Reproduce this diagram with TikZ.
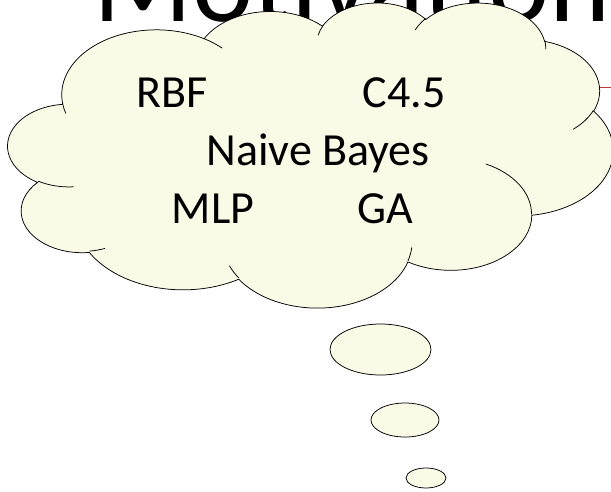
\documentclass[tikz,border=0pt]{standalone}
\usepackage{fontspec}
\setmainfont{Carlito}

\definecolor{cloudyellow}{RGB}{250,251,230}
\definecolor{linkred}{RGB}{190,60,60}

% one puff of the cloud: x radius, y radius, start angle, sweep (angles seen from the centre)
\newcommand\puff[4]{arc[start angle={atan2(#1*sin(#3),#2*cos(#3))},
  delta angle={mod(atan2(#1*sin(#3+#4),#2*cos(#3+#4))-atan2(#1*sin(#3),#2*cos(#3))+720,360)},
  x radius=#1, y radius=#2]}

\begin{document}
\begin{tikzpicture}[x=1pt,y=-1pt,
  cloudline/.style={draw=black,line width=0.75pt},
  bubble/.style={fill=cloudyellow,draw=black,line width=0.75pt},
  idea/.style={anchor=base,inner sep=0pt,font=\fontsize{46}{50}\selectfont}]
  \useasboundingbox (0,0) rectangle (611,491);
  \clip (0,0) rectangle (611,491);
  \fill[white] (0,0) rectangle (611,491);

  \node[anchor=base west,inner sep=0pt,font=\fontsize{116}{116}\selectfont] (title) at (93,21) {Motivation};

  \coordinate (rim) at (570,87);
  \coordinate (exit) at (611,87);
  \draw[linkred,line width=0.9pt] (rim) -- (exit);

  \begin{scope}[shift={(8,2)},x=1.4005pt,y=-0.706pt]
    \filldraw[fill=cloudyellow,cloudline] (39.00,143.70)
      \puff{67.53}{91.90}{-190.4875}{123.7805}
      \puff{53.33}{72.67}{-144.1024}{89.9452}
      \puff{43.65}{59.45}{-145.8079}{99.7230}
      \puff{48.57}{65.95}{-130.9861}{117.2417}
      \puff{53.33}{72.73}{-78.7089}{109.0269}
      \puff{67.75}{92.20}{-46.2673}{130.2690}
      \puff{57.85}{78.67}{0.6250}{114.0333}
      \puff{67.52}{92.15}{22.4516}{115.1726}
      \puff{77.20}{105.43}{66.2426}{75.7110}
      \puff{43.60}{59.18}{-274.9421}{146.7356}
      \puff{43.45}{59.45}{-246.8285}{152.5189}
      -- cycle;
    \draw[cloudline]
      (46.93,261.77) \puff{43.45}{59.45}{86.7420}{26.4295}
      (69.28,348.99) \puff{43.60}{59.18}{73.6105}{11.4475}
      (164.78,390.90) \puff{67.52}{92.15}{137.6242}{14.0811}
      (288.27,347.51) \puff{67.52}{92.15}{6.4533}{15.9984}
      (341.29,229.54) \puff{57.85}{78.67}{-70.2924}{70.9174}
      (417.98,153.54) \puff{53.33}{72.73}{30.3180}{27.7515}
      (383.24,54.26) \puff{48.57}{65.95}{-13.7443}{14.8589}
      (290.78,39.52) \puff{48.57}{65.95}{-149.1815}{18.1954}
      (221.41,47.20) \puff{43.65}{59.45}{-163.4943}{17.6864}
      (140.00,51.92) \puff{67.53}{91.90}{-66.7070}{12.3194}
      (41.27,157.89) \puff{67.53}{91.90}{157.6544}{11.8582};
  \end{scope}

  \draw[bubble] (380.5,349.5) ellipse[x radius=50.5,y radius=25.5];
  \draw[bubble] (405,420) ellipse[x radius=34,y radius=17];
  \draw[bubble] (426,478) ellipse[x radius=20,y radius=10];

  \node[idea] (rbf) at (172,107) {RBF};
  \node[idea] (c45) at (404,107) {C4.5};
  \node[idea] (bayes) at (318,165) {Naive Bayes};
  \node[idea] (mlp) at (213,223) {MLP};
  \node[idea] (ga) at (385,223) {GA};
\end{tikzpicture}
\end{document}
